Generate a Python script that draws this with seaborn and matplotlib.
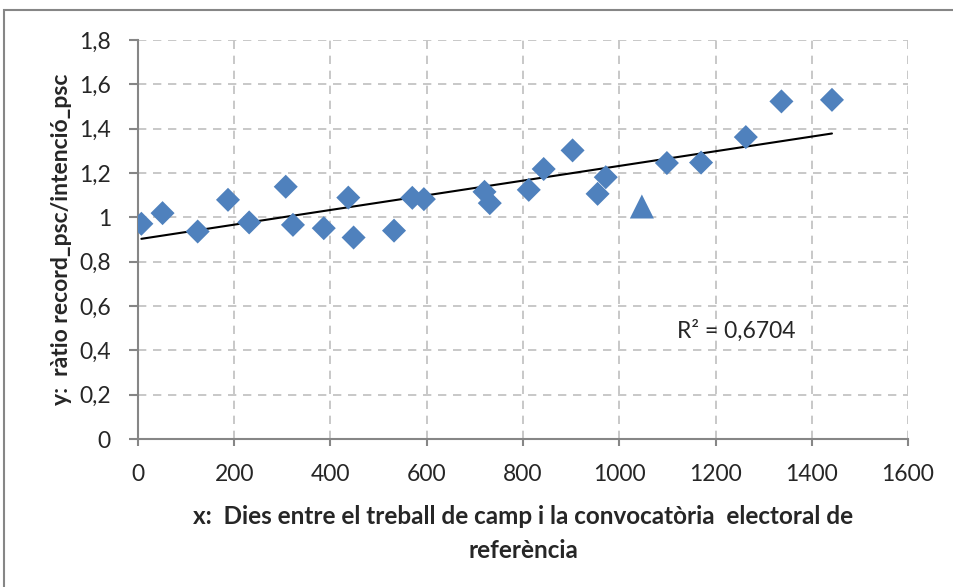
import numpy as np
import pandas as pd
import seaborn as sns
import matplotlib.pyplot as plt
from matplotlib.ticker import FuncFormatter
from matplotlib.patches import Rectangle

# dies entre treball de camp i convocatòria (sèrie principal)
dies = [7, 51, 124, 187, 231, 307, 322, 386, 437, 448, 532, 570, 594,
        720, 731, 812, 843, 903, 955, 972, 1099, 1170, 1263, 1337, 1442]
ratio = [0.971, 1.019, 0.936, 1.079, 0.977, 1.138, 0.966, 0.951, 1.089,
         0.909, 0.940, 1.088, 1.082, 1.115, 1.064, 1.124, 1.218, 1.302,
         1.106, 1.181, 1.245, 1.247, 1.362, 1.523, 1.530]
# punt separat (triangle)
dies_tri = [1047]
ratio_tri = [1.049]

x_ticks = [0, 200, 400, 600, 800, 1000, 1200, 1400, 1600]
y_ticks = [0, 0.2, 0.4, 0.6, 0.8, 1.0, 1.2, 1.4, 1.6, 1.8]
r2_label = "R² = 0,6704"

blue = "#4F81BD"
axis_grey = "#868686"
grid_grey = "#BFBFBF"

sns.set_theme(style="white")
plt.rcParams["font.family"] = ["Lato", "DejaVu Sans"]

df = pd.DataFrame({"x": dies, "y": ratio})
df_tri = pd.DataFrame({"x": dies_tri, "y": ratio_tri})
df_all = pd.concat([df, df_tri], ignore_index=True)

fig = plt.figure(figsize=(9.54, 5.87), dpi=100)
ax = fig.add_axes([138 / 954, 1 - 439 / 587, 770 / 954, 399 / 587])

# tendència lineal sobre tots els punts
sns.regplot(data=df_all, x="x", y="y", scatter=False, ci=None, truncate=True,
            color="black", line_kws={"linewidth": 1.5}, ax=ax)
sns.scatterplot(data=df, x="x", y="y", marker="D", s=150, color=blue,
                edgecolor="none", ax=ax, zorder=3)
sns.scatterplot(data=df_tri, x="x", y="y", marker="^", s=300, color=blue,
                edgecolor="none", ax=ax, zorder=3)

ax.set_xlim(0, 1600)
ax.set_ylim(0, 1.8)
ax.set_xticks(x_ticks)
ax.set_yticks(y_ticks)
ax.yaxis.set_major_formatter(FuncFormatter(lambda v, p: f"{v:g}".replace(".", ",")))

ax.grid(True, linestyle=(0, (5, 4)), color=grid_grey, linewidth=1.2)
ax.set_axisbelow(True)
for side in ["top", "right"]:
    ax.spines[side].set_visible(False)
for side in ["left", "bottom"]:
    ax.spines[side].set_color(axis_grey)
    ax.spines[side].set_linewidth(1.5)
ax.tick_params(axis="both", direction="out", width=1.5, color=axis_grey,
               labelsize=16.5, left=True, bottom=True)
ax.tick_params(axis="y", length=6.5, pad=13)
ax.tick_params(axis="x", length=5, pad=13)

ax.set_xlabel("x:  Dies entre el treball de camp i la convocatòria  electoral de\nreferència",
              fontsize=17.5, fontweight="bold", linespacing=1.6)
ax.xaxis.set_label_coords(0.5, -0.165)
ax.set_ylabel("y:  ràtio record_psc/intenció_psc", fontsize=16.5, fontweight="bold")
ax.yaxis.set_label_coords(-0.086, 0.5)

ax.text(1121, 0.488, r2_label, fontsize=16.5, va="center", ha="left")

fig.patches.append(Rectangle((4 / 954, -0.1), 1.2, 1 - 10 / 587 + 0.1,
                             transform=fig.transFigure, fill=False,
                             edgecolor=axis_grey, linewidth=1.5))

fig.savefig("out.png", dpi=100)
